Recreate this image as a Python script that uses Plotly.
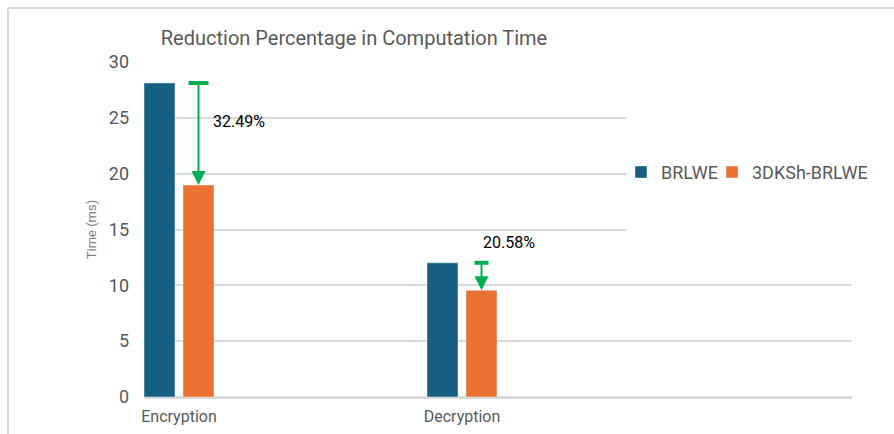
import plotly.graph_objects as go

# Computation time per operation (ms)
operations = ["Encryption", "Decryption"]
brlwe_ms = [28.12, 12.02]
dksh_ms = [18.98, 9.55]
reduction_labels = ["32.49%", "20.58%"]

BLUE = "#156082"
ORANGE = "#E97132"
GREEN = "#00B050"
GRID = "#D9D9D9"
TEXT = "#595959"
FONT = "Roboto"

W, H = 894, 434
L, R, T, B = 144, 42, 62, 37
plot_w = W - L - R
plot_h = H - T - B

# bar geometry (category units)
bargap = 0.7244
bargroupgap = 0.205
slot = (1 - bargap) / 2
px_per_cat = 283.0
x_range = [-35 / px_per_cat, -35 / px_per_cat + plot_w / px_per_cat]
cap_half_px = [10, 7]

fig = go.Figure()
fig.add_trace(go.Bar(name="BRLWE", x=operations, y=brlwe_ms, marker_color=BLUE,
                     legend="legend"))
fig.add_trace(go.Bar(name="3DKSh-BRLWE", x=operations, y=dksh_ms, marker_color=ORANGE,
                     legend="legend2"))

shapes = []
annotations = []

# white panel behind the legend (hides part of the grid)
shapes.append(dict(type="rect", xref="paper", yref="y", x0=(627 - L) / plot_w, x1=1.01,
                   y0=13.3, y1=26.8, fillcolor="white", line=dict(width=0),
                   layer="above"))

for i, (hi, lo, lab) in enumerate(zip(brlwe_ms, dksh_ms, reduction_labels)):
    xc = i + slot / 2
    hw = cap_half_px[i] / px_per_cat
    # cap at the BRLWE level
    shapes.append(dict(type="line", xref="x", yref="y", x0=xc - hw, x1=xc + hw,
                       y0=hi, y1=hi, line=dict(color=GREEN, width=4), layer="above"))
    # arrow down to the 3DKSh-BRLWE level
    annotations.append(dict(x=xc, y=lo, ax=xc, ay=hi, xref="x", yref="y",
                            axref="x", ayref="y", showarrow=True, arrowhead=2,
                            arrowsize=1.4, arrowwidth=2, arrowcolor=GREEN,
                            standoff=0, startstandoff=0, text=""))
    if i == 0:
        annotations.append(dict(x=xc, y=(hi + lo) / 2, xref="x", yref="y",
                                text=lab, showarrow=False, xanchor="left",
                                yanchor="middle", xshift=12, yshift=13,
                                font=dict(family=FONT, size=16, color="#000000")))
    else:
        annotations.append(dict(x=xc, y=hi, xref="x", yref="y",
                                text=lab, showarrow=False, xanchor="left",
                                yanchor="middle", xshift=-1, yshift=20,
                                font=dict(family=FONT, size=16, color="#000000")))

# chart-area frame (left and top edges)
fx = (8 - L) / plot_w
fy = 1 + (T - 8) / plot_h
shapes.append(dict(type="line", xref="paper", yref="paper", x0=fx, x1=fx,
                   y0=-0.2, y1=fy, line=dict(color=GRID, width=2)))
shapes.append(dict(type="line", xref="paper", yref="paper", x0=fx, x1=1.2,
                   y0=fy, y1=fy, line=dict(color=GRID, width=2)))

legend_style = dict(orientation="h", xanchor="left", yanchor="middle",
                    y=(396.7 - 172) / plot_h,
                    font=dict(family=FONT, size=18, color=TEXT),
                    bgcolor="rgba(0,0,0,0)")

fig.update_layout(
    width=W, height=H,
    margin=dict(l=L, r=R, t=T, b=B, autoexpand=False),
    paper_bgcolor="white", plot_bgcolor="white",
    barmode="group", bargap=bargap, bargroupgap=bargroupgap,
    font=dict(family=FONT, color=TEXT),
    title=dict(text="Reduction Percentage in Computation Time",
               x=(354 - L) / plot_w, xref="paper", xanchor="center",
               y=1 - 38 / H, yref="container", yanchor="middle",
               font=dict(family=FONT, size=20, color=TEXT)),
    legend=dict(x=(621 - L) / plot_w, **legend_style),
    legend2=dict(x=(712 - L) / plot_w, **legend_style),
    shapes=shapes,
    annotations=annotations,
    showlegend=True,
)
fig.update_xaxes(range=x_range, showgrid=False, showline=False, zeroline=False,
                 automargin=False,
                 ticks="", tickfont=dict(family=FONT, size=16, color=TEXT),
                 ticklabelstandoff=8)
fig.update_yaxes(range=[0, 30], dtick=5, showgrid=True, gridcolor=GRID, gridwidth=2,
                 zeroline=True, zerolinecolor=GRID, zerolinewidth=3,
                 showline=False, ticks="", automargin=False,
                 tickfont=dict(family=FONT, size=18, color=TEXT),
                 ticklabelstandoff=14,
                 title=dict(text="Time (ms)", standoff=9,
                            font=dict(family=FONT, size=13, color="#7F7F7F")))

fig.write_html("out.html")
